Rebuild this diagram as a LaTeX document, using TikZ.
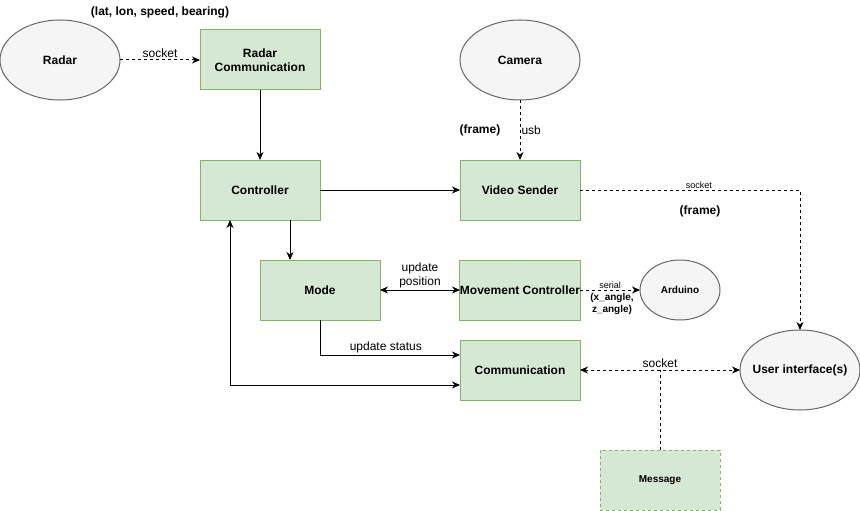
\documentclass[tikz,border=0pt]{standalone}
\usepackage{fontspec}
\setmainfont{Liberation Sans}
\usetikzlibrary{arrows.meta,shapes.geometric,calc}
\definecolor{gfill}{HTML}{D5E8D4}
\definecolor{gline}{HTML}{82B366}
\definecolor{efill}{HTML}{F5F5F5}
\definecolor{eline}{HTML}{666666}
\tikzset{
  box/.style={draw=gline,fill=gfill,line width=1pt,minimum width=120pt,minimum height=60pt,inner sep=0pt,outer sep=0pt,font=\bfseries\fontsize{12}{14}\selectfont,align=center},
  ell/.style={draw=eline,fill=efill,line width=1pt,ellipse,minimum width=120pt,minimum height=80pt,inner sep=0pt,outer sep=0pt},
  etext/.style={font=\bfseries\fontsize{12}{14}\selectfont},
  conn/.style={line width=1pt,-{Stealth[length=8pt,width=7pt,inset=2.5pt]}},
  biconn/.style={line width=1pt,{Stealth[length=8pt,width=7pt,inset=2.5pt]}-{Stealth[length=8pt,width=7pt,inset=2.5pt]}},
  dsh/.style={dash pattern=on 3pt off 3pt},
  lbl/.style={font=\fontsize{12}{14}\selectfont,align=center},
  blbl/.style={font=\bfseries\fontsize{12}{14}\selectfont,align=center},
}
\begin{document}
\begin{tikzpicture}[x=1pt,y=-1pt]
\useasboundingbox (0,0) rectangle (860,511);
% nodes
\node[ell] (radar) at (60,60) {};
\node[etext] (radarT) at (radar.center) {Radar};
\node[box] (rc) at (260,60) {Radar\\Communication};
\node[ell] (cam) at (520,60) {};
\node[etext] (camT) at (cam.center) {Camera};
\node[box] (ctrl) at (260,190) {Controller};
\node[box] (vs) at (520,190) {Video Sender};
\node[box] (mode) at (320,290) {Mode};
\node[box] (mc) at (520,290) {Movement Controller};
\node[ell,minimum width=80pt,minimum height=60pt] (ard) at (680,290) {};
\node[font=\bfseries\fontsize{10}{12}\selectfont] (ardT) at (ard.center) {Arduino};
\node[box] (comm) at (520,370) {Communication};
\node[ell] (ui) at (800,370) {};
\node[etext] (uiT) at (ui.center) {User interface(s)};
\node[box,dsh,font=\bfseries\fontsize{10}{12}\selectfont] (msg) at (660,480) {Message};
% free labels
\node[blbl] (l1) at (160,12) {(lat, lon, speed, bearing)};
\node[blbl] (l2) at (480,130) {(frame)};
\node[blbl] (l3) at (700,211) {(frame)};
\node[font=\bfseries\fontsize{10}{12}\selectfont,align=center] (l4) at (612,304) {(x\_angle,\\z\_angle)};
% connectors
\draw[conn,dsh] (radar) -- node[lbl,above,inner sep=1.5pt] {socket} (rc);
\draw[conn] (rc) -- (ctrl);
\draw[conn,dsh] (cam) -- node[lbl,right,inner sep=1pt] {usb} (vs);
\draw[conn] (ctrl) -- (vs);
\draw[conn,dsh] (vs.east) -| node[pos=0.27,above,inner sep=1pt,font=\fontsize{9}{10}\selectfont] {socket} (ui.north);
\draw[conn] ($(ctrl.south east)+(-30,0)$) -- ($(mode.north west)+(30,0)$);
\draw[biconn] (mode) -- node[lbl,above,inner sep=2pt] {update\\position} (mc);
\draw[conn,dsh] (mc) -- node[above,inner sep=1pt,font=\fontsize{9}{10}\selectfont] {serial} (ard);
\draw[conn] (mode.south) |- node[pos=0.735,lbl,above,inner sep=1.5pt] {update status} ($(comm.north west)+(0,15)$);
\draw[biconn] ($(ctrl.south west)+(30,0)$) |- ($(comm.south west)+(0,-15)$);
\draw[biconn,dsh] (comm) -- node[lbl,above,inner sep=1.5pt] {socket} (ui);
\draw[line width=1pt,dsh] (msg.north) -- (msg.north |- comm.east);
\end{tikzpicture}
\end{document}
